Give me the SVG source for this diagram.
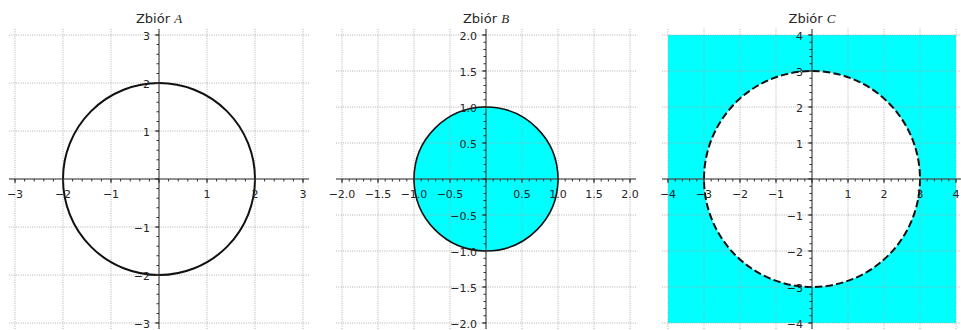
<svg xmlns="http://www.w3.org/2000/svg" width="961" height="330" viewBox="0 0 961 330">
<style>
.bg{fill:#ffffff}
.grid{fill:none;stroke:#a8a8a8;stroke-width:0.9;stroke-dasharray:1 1.3}
.axis{fill:none;stroke:#333333;stroke-width:1}
.tk{fill:none;stroke:#333333}
.t{font-family:"DejaVu Sans","Liberation Sans",sans-serif;font-size:11px;fill:#262626}
.xl{text-anchor:middle}
.yl{text-anchor:end}
.title{font-family:"DejaVu Sans","Liberation Sans",sans-serif;font-size:13px;fill:#262626;text-anchor:middle}
.m{font-family:"Liberation Serif","DejaVu Serif",serif;font-style:italic}
.set{fill:#00ffff}
</style>
<rect class="bg" x="0" y="0" width="961" height="330"/>

<g id="panelA">
  <path class="grid" d="M15 29V329M63 29V329M111 29V329M159 29V329M207 29V329M255 29V329M303 29V329M9 35H309M9 83H309M9 131H309M9 179H309M9 227H309M9 275H309M9 323H309"/>
  <circle cx="159" cy="179" r="96" fill="none" stroke="#111111" stroke-width="2"/>
  <path class="axis" d="M9 179H309M159 29V329"/>
  <line class="tk" x1="14.5" y1="180.25" x2="304" y2="180.25" stroke-width="2.5" stroke-dasharray="1 8.6"/>
  <line class="tk" x1="14.5" y1="181" x2="304" y2="181" stroke-width="4" stroke-dasharray="1 47"/>
  <line class="tk" x1="157.75" y1="34.5" x2="157.75" y2="324" stroke-width="2.5" stroke-dasharray="1 8.6"/>
  <line class="tk" x1="157" y1="34.5" x2="157" y2="324" stroke-width="4" stroke-dasharray="1 47"/>
  <text class="title" x="159" y="22.5">Zbiór <tspan class="m">A</tspan></text>
  <g class="t xl">
    <text x="15" y="198">−3</text><text x="63" y="198">−2</text><text x="111" y="198">−1</text>
    <text x="207" y="198">1</text><text x="255" y="198">2</text><text x="303" y="198">3</text>
  </g>
  <g class="t yl">
    <text x="150" y="39.5">3</text><text x="150" y="87.5">2</text><text x="150" y="135.5">1</text>
    <text x="150" y="231.5">−1</text><text x="150" y="279.5">−2</text><text x="150" y="327.5">−3</text>
  </g>
</g>

<g id="panelB">
  <circle class="set" cx="486" cy="179" r="72"/>
  <path class="grid" d="M342 29V329M378 29V329M414 29V329M450 29V329M486 29V329M522 29V329M558 29V329M594 29V329M630 29V329M336 35H636M336 71H636M336 107H636M336 143H636M336 179H636M336 215H636M336 251H636M336 287H636M336 323H636"/>
  <circle cx="486" cy="179" r="72" fill="none" stroke="#111111" stroke-width="1.6"/>
  <path class="axis" d="M336 179H636M486 29V329"/>
  <line class="tk" x1="341.5" y1="180.25" x2="631" y2="180.25" stroke-width="2.5" stroke-dasharray="1 6.2"/>
  <line class="tk" x1="341.5" y1="181" x2="631" y2="181" stroke-width="4" stroke-dasharray="1 35"/>
  <line class="tk" x1="484.75" y1="34.5" x2="484.75" y2="324" stroke-width="2.5" stroke-dasharray="1 6.2"/>
  <line class="tk" x1="484" y1="34.5" x2="484" y2="324" stroke-width="4" stroke-dasharray="1 35"/>
  <text class="title" x="486" y="22.5">Zbiór <tspan class="m">B</tspan></text>
  <g class="t xl">
    <text x="342" y="198">−2.0</text><text x="378" y="198">−1.5</text><text x="414" y="198">−1.0</text><text x="450" y="198">−0.5</text>
    <text x="522" y="198">0.5</text><text x="558" y="198">1.0</text><text x="594" y="198">1.5</text><text x="630" y="198">2.0</text>
  </g>
  <g class="t yl">
    <text x="477" y="39.5">2.0</text><text x="477" y="75.5">1.5</text><text x="477" y="111.5">1.0</text><text x="477" y="147.5">0.5</text>
    <text x="477" y="219.5">−0.5</text><text x="477" y="255.5">−1.0</text><text x="477" y="291.5">−1.5</text><text x="477" y="327.5">−2.0</text>
  </g>
</g>

<g id="panelC">
  <rect class="set" x="668" y="35" width="288" height="288"/>
  <circle cx="812" cy="179" r="108" fill="#ffffff"/>
  <path class="grid" d="M668 29V329M704 29V329M740 29V329M776 29V329M812 29V329M848 29V329M884 29V329M920 29V329M956 29V329M662 35H962M662 71H962M662 107H962M662 143H962M662 179H962M662 215H962M662 251H962M662 287H962M662 323H962"/>
  <circle cx="812" cy="179" r="108" fill="none" stroke="#111111" stroke-width="2" stroke-dasharray="7.4 3.2"/>
  <path class="axis" d="M662 179H962M812 29V329"/>
  <line class="tk" x1="667.5" y1="180.25" x2="957" y2="180.25" stroke-width="2.5" stroke-dasharray="1 6.2"/>
  <line class="tk" x1="667.5" y1="181" x2="957" y2="181" stroke-width="4" stroke-dasharray="1 35"/>
  <line class="tk" x1="810.75" y1="34.5" x2="810.75" y2="324" stroke-width="2.5" stroke-dasharray="1 6.2"/>
  <line class="tk" x1="810" y1="34.5" x2="810" y2="324" stroke-width="4" stroke-dasharray="1 35"/>
  <text class="title" x="812" y="22.5">Zbiór <tspan class="m">C</tspan></text>
  <g class="t xl">
    <text x="668" y="198">−4</text><text x="704" y="198">−3</text><text x="740" y="198">−2</text><text x="776" y="198">−1</text>
    <text x="848" y="198">1</text><text x="884" y="198">2</text><text x="920" y="198">3</text><text x="956" y="198">4</text>
  </g>
  <g class="t yl">
    <text x="803" y="39.5">4</text><text x="803" y="75.5">3</text><text x="803" y="111.5">2</text><text x="803" y="147.5">1</text>
    <text x="803" y="219.5">−1</text><text x="803" y="255.5">−2</text><text x="803" y="291.5">−3</text><text x="803" y="327.5">−4</text>
  </g>
</g>
</svg>
